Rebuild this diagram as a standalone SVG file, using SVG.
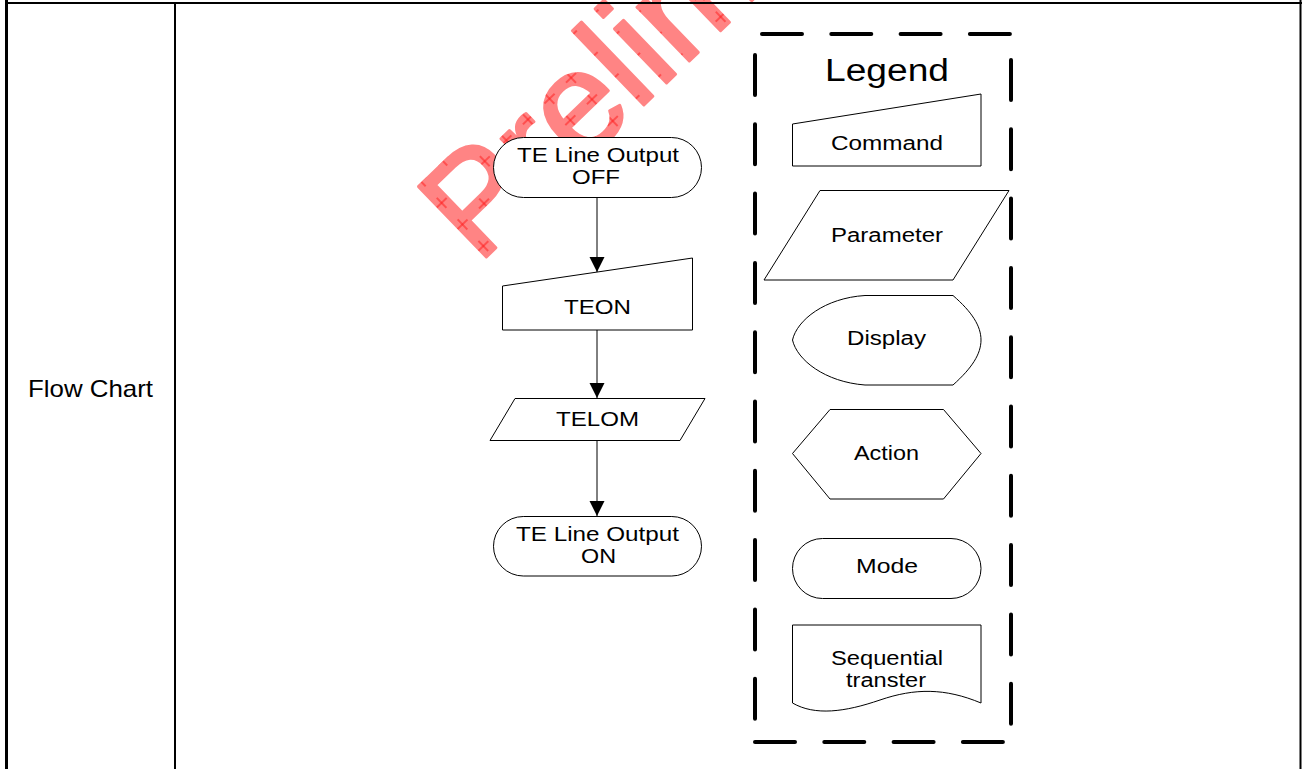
<svg xmlns="http://www.w3.org/2000/svg" width="1302" height="769" viewBox="0 0 1302 769">
<style>
.t{font-family:"Liberation Sans",Arial,sans-serif;font-size:20px;fill:#000}
.s{fill:#fff;stroke:#000;stroke-width:1}
.c{stroke:#000;stroke-width:1;fill:none}
.d{stroke:#000;stroke-width:4;stroke-linecap:round;stroke-dasharray:40 29.3;fill:none}
.b{stroke:#000;fill:none}
.wm{font-family:"Liberation Sans",Arial,sans-serif;font-size:142px;fill:url(#wm);stroke:url(#wm);stroke-width:3;stroke-linejoin:round}
</style>
<defs>
<pattern id="wm" patternUnits="userSpaceOnUse" width="30" height="30">
<rect width="30" height="30" fill="#ff8484"/>
<path d="M15 8V22M8 15H22" stroke="#ff1a1a" stroke-width="1"/>
</pattern>
<marker id="ah" markerUnits="userSpaceOnUse" markerWidth="16" markerHeight="16" viewBox="0 0 16 16" refX="15" refY="8" orient="auto">
<path d="M0 0.5L15 8L0 15.5Z" fill="#000"/>
</marker>
</defs>
<rect width="1302" height="769" fill="#fff"/>
<g id="watermark">
<text class="wm" x="478" y="265" transform="rotate(-44 478 265)">Preliminary</text>
</g>
<g id="table">
<line class="b" x1="6.5" y1="0" x2="6.5" y2="769" stroke-width="3"/>
<line class="b" x1="5" y1="3" x2="1302" y2="3" stroke-width="2"/>
<line class="b" x1="175" y1="3" x2="175" y2="769" stroke-width="2"/>
<line class="b" x1="1300.5" y1="0" x2="1300.5" y2="769" stroke-width="2"/>
<text class="t" x="28" y="397" style="font-size:24px" textLength="125" lengthAdjust="spacingAndGlyphs">Flow Chart</text>
</g>
<g id="connectors">
<line class="c" x1="597" y1="198" x2="597" y2="272" marker-end="url(#ah)"/>
<line class="c" x1="597" y1="330" x2="597" y2="398" marker-end="url(#ah)"/>
<line class="c" x1="597" y1="441" x2="597" y2="516" marker-end="url(#ah)"/>
</g>
<g id="node-off">
<rect class="s" x="493.5" y="137.5" width="208" height="60" rx="30"/>
<text class="t" x="517" y="162" textLength="162" lengthAdjust="spacingAndGlyphs">TE Line Output</text>
<text class="t" x="572" y="184" textLength="48" lengthAdjust="spacingAndGlyphs">OFF</text>
</g>
<g id="node-teon">
<polygon class="s" points="502.5,286 692.5,258 692.5,330 502.5,330"/>
<text class="t" x="564" y="314" textLength="67" lengthAdjust="spacingAndGlyphs">TEON</text>
</g>
<g id="node-telom">
<polygon class="s" points="515,398.5 705,398.5 680,440.5 490,440.5"/>
<text class="t" x="556" y="426" textLength="83" lengthAdjust="spacingAndGlyphs">TELOM</text>
</g>
<g id="node-on">
<rect class="s" x="493.5" y="516.5" width="208" height="59.5" rx="29.75"/>
<text class="t" x="516" y="541" textLength="163" lengthAdjust="spacingAndGlyphs">TE Line Output</text>
<text class="t" x="581" y="563" textLength="35" lengthAdjust="spacingAndGlyphs">ON</text>
</g>
<g id="legend">
<line class="d" x1="762" y1="34" x2="1012" y2="34"/>
<line class="d" x1="755" y1="55" x2="755" y2="720"/>
<line class="d" x1="1011" y1="60" x2="1011" y2="725"/>
<line class="d" x1="755" y1="742" x2="1005" y2="742"/>
<text class="t" x="825" y="81" style="font-size:31px" textLength="124" lengthAdjust="spacingAndGlyphs">Legend</text>
</g>
<g id="legend-command">
<polygon class="s" points="792.5,124 981,94 981,166 792.5,166"/>
<text class="t" x="831" y="150" textLength="112" lengthAdjust="spacingAndGlyphs">Command</text>
</g>
<g id="legend-parameter">
<polygon class="s" points="820,190.5 1009,190.5 953,280 764,280"/>
<text class="t" x="831" y="242" textLength="112" lengthAdjust="spacingAndGlyphs">Parameter</text>
</g>
<g id="legend-display">
<path class="s" d="M865,295.5 H953 C972,312 981,326 981,340 C981,354 972,368 953,385 H865 C825,382 797,360 792.5,340 C797,320 825,298 865,295.5 Z"/>
<text class="t" x="847" y="345" textLength="79" lengthAdjust="spacingAndGlyphs">Display</text>
</g>
<g id="legend-action">
<polygon class="s" points="792.5,453.5 830,409.5 943.5,409.5 981,453.5 943.5,499 830,499"/>
<text class="t" x="854" y="460" textLength="65" lengthAdjust="spacingAndGlyphs">Action</text>
</g>
<g id="legend-mode">
<rect class="s" x="792.5" y="538.5" width="188.5" height="60" rx="30"/>
<text class="t" x="856" y="573" textLength="62" lengthAdjust="spacingAndGlyphs">Mode</text>
</g>
<g id="legend-sequential">
<path class="s" d="M792.5,625 H981 V703 C945,688 915,688 880,700 C845,712 815,716 792.5,703 Z"/>
<text class="t" x="831" y="665" textLength="112" lengthAdjust="spacingAndGlyphs">Sequential</text>
<text class="t" x="846" y="687" textLength="80" lengthAdjust="spacingAndGlyphs">transter</text>
</g>
</svg>
